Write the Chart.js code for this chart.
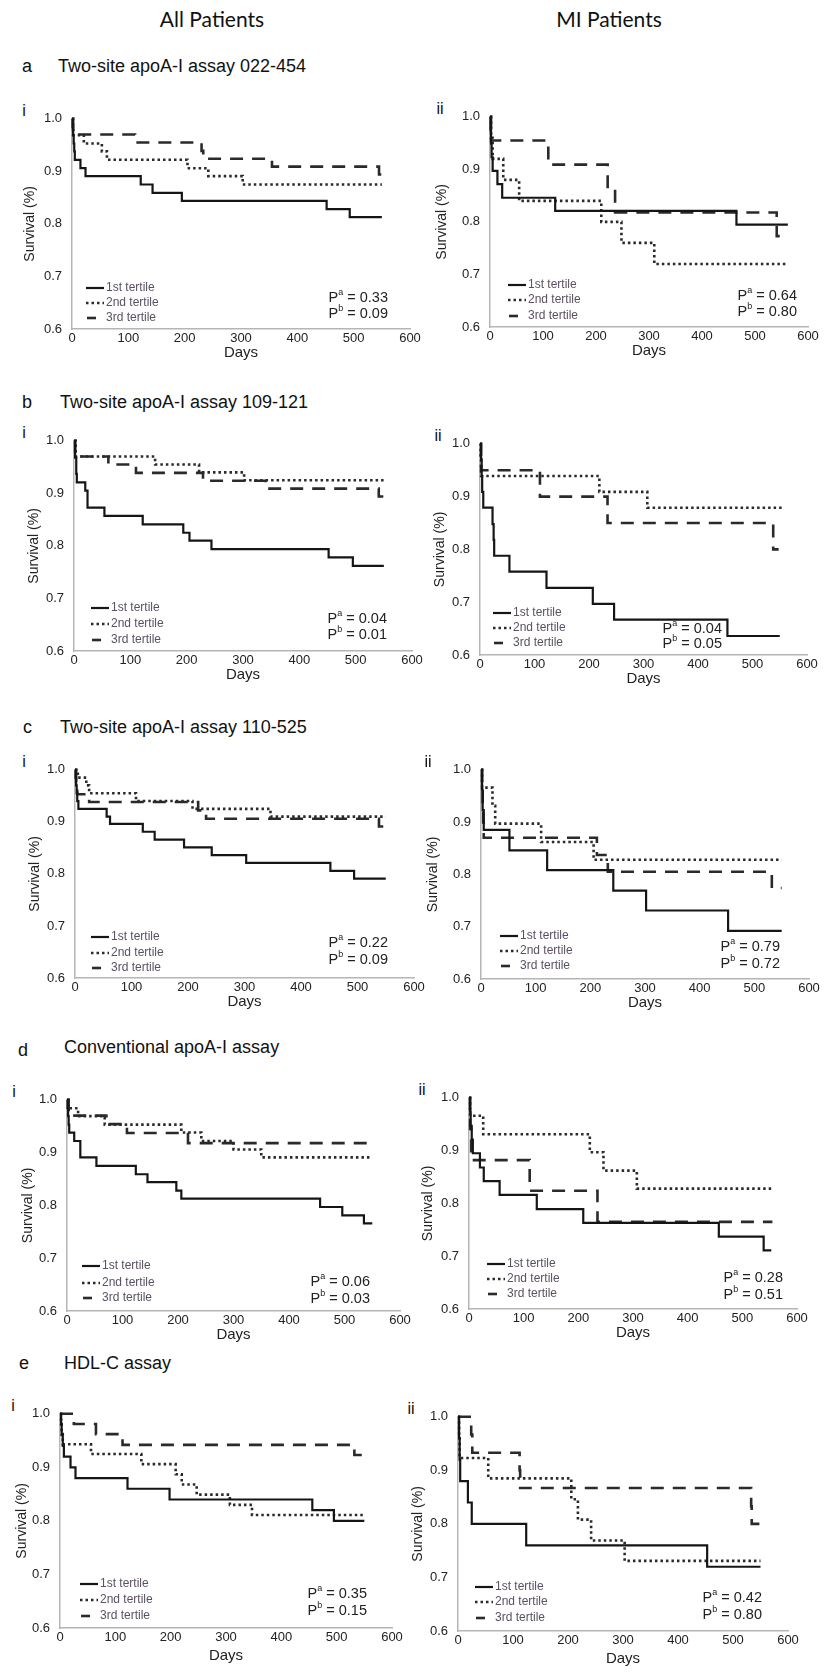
<!DOCTYPE html>
<html>
<head>
<meta charset="utf-8">
<script src="https://cdn.jsdelivr.net/npm/chart.js@4.4.1/dist/chart.umd.min.js"></script>
<style>
  body { margin: 0; background: #fff; }
  #page { position: relative; width: 829px; height: 1675px; overflow: hidden;
          font-family: 'Liberation Sans', Arial, sans-serif; color: #111; }
  .txt { position: absolute; white-space: nowrap; line-height: 1; transform: translateY(-50%); }
  .hdr { font-family: Lato, 'Open Sans', sans-serif; font-size: 21px; transform: translate(-50%, -50%); }
  .ttl { font-size: 18px; }
  .pl { font-size: 16px; transform: translate(-50%, -50%); }
  canvas { position: absolute; }
</style>
</head>
<body>
<div id="page"></div>
<script>
// Kaplan-Meier steps: [day, survival]
var aAll1 = [[0,1],[1,0.984],[2,0.969],[3,0.953],[4,0.938],[5,0.922],[15,0.906],[24,0.891],[122,0.875],[143,0.859],[195,0.844],[452,0.828],[493,0.813],[550,0.813]];
var aAll2 = [[0,1],[2,0.969],[21,0.953],[53,0.938],[62,0.922],[205,0.906],[242,0.891],[303,0.875],[550,0.875]];
var aAll3 = [[0,1],[2,0.970],[112,0.955],[230,0.939],[233,0.924],[355,0.909],[545,0.894],[550,0.894]];
var aMI1 = [[0,1],[1,0.974],[2,0.949],[3,0.923],[5,0.897],[14,0.872],[23,0.846],[123,0.821],[465,0.795],[562,0.795]];
var aMI2 = [[0,1],[2,0.96],[5,0.92],[25,0.88],[55,0.84],[210,0.80],[248,0.76],[310,0.72],[562,0.72]];
var aMI3 = [[0,1],[2,0.955],[110,0.909],[222,0.864],[236,0.818],[541,0.773],[562,0.773]];

var bAll1 = [[0,1],[2,0.968],[4,0.937],[5,0.921],[20,0.905],[24,0.873],[54,0.857],[122,0.841],[194,0.825],[205,0.810],[244,0.794],[452,0.778],[495,0.762],[550,0.762]];
var bAll2 = [[0,1],[3,0.970],[144,0.955],[222,0.940],[302,0.925],[550,0.925]];
var bAll3 = [[0,1],[2,0.970],[61,0.955],[110,0.939],[229,0.924],[340,0.909],[541,0.894],[550,0.894]];
var bMI1 = [[0,1],[2,0.970],[3,0.939],[4,0.909],[6,0.879],[23,0.848],[25,0.818],[26,0.788],[54,0.758],[122,0.727],[207,0.697],[246,0.667],[454,0.636],[550,0.636]];
var bMI2 = [[0,1],[1,0.970],[2,0.939],[219,0.909],[307,0.879],[555,0.879]];
var bMI3 = [[0,1],[2,0.95],[110,0.90],[234,0.85],[538,0.80],[548,0.80]];

var cAll1 = [[0,1],[1,0.985],[2,0.970],[3,0.955],[4,0.940],[6,0.925],[56,0.910],[62,0.896],[120,0.881],[141,0.866],[193,0.851],[242,0.836],[303,0.821],[452,0.806],[494,0.791],[550,0.791]];
var cAll2 = [[0,1],[5,0.985],[20,0.970],[25,0.955],[108,0.940],[208,0.925],[346,0.910],[550,0.910]];
var cAll3 = [[0,1],[2,0.969],[4,0.953],[25,0.938],[218,0.922],[232,0.906],[538,0.891],[550,0.891]];
var cMI1 = [[0,1],[2,0.962],[3,0.923],[5,0.885],[52,0.846],[121,0.808],[242,0.769],[302,0.731],[452,0.692],[550,0.692]];
var cMI2 = [[0,1],[2,0.966],[21,0.931],[26,0.897],[110,0.862],[206,0.828],[550,0.828]];
var cMI3 = [[0,1],[2,0.967],[3,0.933],[4,0.90],[5,0.870],[212,0.837],[232,0.805],[532,0.774],[550,0.774]];

var dAll1 = [[0,1],[1,0.984],[2,0.969],[3,0.953],[4,0.938],[13,0.922],[24,0.891],[53,0.875],[124,0.859],[145,0.844],[197,0.828],[206,0.813],[456,0.797],[496,0.781],[535,0.766],[550,0.766]];
var dAll2 = [[0,1],[3,0.984],[20,0.969],[68,0.953],[206,0.938],[242,0.922],[300,0.906],[350,0.891],[550,0.891]];
var dAll3 = [[0,1],[3,0.970],[71,0.954],[108,0.937],[218,0.918],[550,0.918]];
var dMI1 = [[0,1],[2,0.974],[3,0.947],[5,0.921],[7,0.895],[20,0.868],[27,0.842],[56,0.816],[124,0.789],[209,0.763],[457,0.737],[539,0.711],[553,0.711]];
var dMI2 = [[0,1],[2,0.966],[26,0.931],[221,0.897],[246,0.862],[307,0.828],[555,0.828]];
var dMI3 = [[0,1],[2,0.941],[4,0.882],[111,0.824],[235,0.765],[555,0.765]];

var eAll1 = [[0,1],[2,0.98],[3,0.96],[5,0.94],[7,0.92],[19,0.90],[28,0.88],[122,0.86],[198,0.84],[456,0.82],[495,0.80],[550,0.80]];
var eAll2 = [[0,1],[2,0.981],[3,0.962],[5,0.943],[56,0.925],[147,0.906],[209,0.887],[220,0.868],[247,0.849],[307,0.830],[347,0.811],[550,0.811]];
var eAll3 = [[0,1],[25,0.981],[65,0.962],[113,0.942],[532,0.923],[550,0.923]];
var eMI1 = [[0,1],[2,0.96],[3,0.92],[4,0.88],[18,0.84],[25,0.80],[124,0.76],[453,0.72],[550,0.72]];
var eMI2 = [[0,1],[2,0.962],[3,0.923],[55,0.885],[206,0.846],[218,0.808],[242,0.769],[303,0.731],[550,0.731]];
var eMI3 = [[0,1],[24,0.967],[26,0.933],[112,0.90],[113,0.867],[533,0.833],[534,0.80],[548,0.80]];

var tertiles = ['1st tertile', '2nd tertile', '3rd tertile'];
var pA = ['0.33', '0.64', '0.04', '0.04', '0.22', '0.79', '0.06', '0.28', '0.35', '0.42'];
var pB = ['0.09', '0.80', '0.01', '0.05', '0.09', '0.72', '0.03', '0.51', '0.15', '0.80'];
var dayTicks = [0, 600, 100];        // min, max, step
var survivalTicks = [0.6, 1.0, 0.1]; // min, max, step

var series = [
  [aAll1, aAll2, aAll3], [aMI1, aMI2, aMI3],
  [bAll1, bAll2, bAll3], [bMI1, bMI2, bMI3],
  [cAll1, cAll2, cAll3], [cMI1, cMI2, cMI3],
  [dAll1, dAll2, dAll3], [dMI1, dMI2, dMI3],
  [eAll1, eAll2, eAll3], [eMI1, eMI2, eMI3]
];

// plot boxes on the page (l,t,r,b), y-axis box width, x-axis box height,
// panel tag offset, legend / P offsets
var boxes = [
  {l:72,  t:111,  r:410, b:329,  yw:50, xh:33, tag:'i',  tx:-48, lx:14, rows:[41,26,11], pr:22, pa:31, pb:15},
  {l:490, t:109,  r:808, b:327,  yw:56, xh:33, tag:'ii', tx:-50, lx:18, rows:[42,27,11], pr:11, pa:31, pb:15},
  {l:74,  t:433,  r:412, b:651,  yw:48, xh:33, tag:'i',  tx:-50, lx:17, rows:[43,27,11], pr:25, pa:32, pb:16},
  {l:480, t:436,  r:807, b:655,  yw:48, xh:33, tag:'ii', tx:-42, lx:13, rows:[42,27,12], pr:85, pa:26, pb:11},
  {l:75,  t:762,  r:414, b:978,  yw:48, xh:33, tag:'i',  tx:-51, lx:16, rows:[41,25,10], pr:26, pa:35, pb:18},
  {l:481, t:762,  r:809, b:979,  yw:56, xh:33, tag:'ii', tx:-53, lx:19, rows:[43,28,13], pr:29, pa:32, pb:15},
  {l:67,  t:1092, r:400, b:1311, yw:47, xh:33, tag:'i',  tx:-53, lx:15, rows:[45,28,13], pr:30, pa:29, pb:12},
  {l:469, t:1090, r:797, b:1309, yw:49, xh:33, tag:'ii', tx:-47, lx:18, rows:[45,30,15], pr:14, pa:31, pb:14},
  {l:60,  t:1406, r:392, b:1628, yw:46, xh:37, tag:'i',  tx:-47, lx:20, rows:[44,28,12], pr:25, pa:34, pb:17},
  {l:458, t:1409, r:788, b:1631, yw:48, xh:37, tag:'ii', tx:-47, lx:17, rows:[44,29,13], pr:26, pa:33, pb:16}
];

var headers = [
  {text:'All Patients', x:212, y:18, cls:'hdr'},
  {text:'MI Patients', x:609, y:18, cls:'hdr'},
  {text:'a', x:22, y:66, cls:'ttl'}, {text:'Two-site apoA-I assay 022-454', x:58, y:66, cls:'ttl'},
  {text:'b', x:22, y:402, cls:'ttl'}, {text:'Two-site apoA-I assay 109-121', x:60, y:402, cls:'ttl'},
  {text:'c', x:23, y:727, cls:'ttl'}, {text:'Two-site apoA-I assay 110-525', x:60, y:727, cls:'ttl'},
  {text:'d', x:18, y:1050, cls:'ttl'}, {text:'Conventional apoA-I assay', x:64, y:1047, cls:'ttl'},
  {text:'e', x:19, y:1363, cls:'ttl'}, {text:'HDL-C assay', x:64, y:1363, cls:'ttl'}
];

var FONT = "'Liberation Sans', Arial, sans-serif";
var lineStyles = [
  {borderColor:'#151515', borderWidth:2.2, borderDash:[]},
  {borderColor:'#2a2a2a', borderWidth:2.6, borderDash:[2.5, 3]},
  {borderColor:'#2a2a2a', borderWidth:2.6, borderDash:[13, 9]}
];

var page = document.getElementById('page');
function addText(text, x, y, cls) {
  var d = document.createElement('div');
  d.className = 'txt ' + cls;
  d.style.left = x + 'px';
  d.style.top = y + 'px';
  d.textContent = text;
  page.appendChild(d);
}
headers.forEach(function(h){ addText(h.text, h.x, h.y, h.cls); });

function drawP(ctx, sup, val, right, y) {
  var big = '14.5px ' + FONT, small = '9px ' + FONT, rest = ' = ' + val;
  ctx.font = big;
  var wP = ctx.measureText('P').width, wR = ctx.measureText(rest).width;
  ctx.font = small;
  var wS = ctx.measureText(sup).width;
  var x = right - wR - wS - wP;
  ctx.font = big;  ctx.fillText('P', x, y);
  ctx.font = small; ctx.fillText(sup, x + wP, y - 5);
  ctx.font = big;  ctx.fillText(rest, x + wP + wS, y);
}

var kmLegend = {
  id: 'kmLegend',
  afterDraw: function(chart, args, o) {
    var ctx = chart.ctx, a = chart.chartArea;
    ctx.save();
    ctx.textBaseline = 'middle';
    ctx.textAlign = 'left';
    chart.data.datasets.forEach(function(ds, i){
      var x = a.left + o.lx, y = a.bottom - o.rows[i];
      ctx.strokeStyle = ds.borderColor;
      ctx.lineWidth = ds.borderWidth;
      ctx.setLineDash(i == 2 ? [] : ds.borderDash);
      ctx.beginPath();
      if (i == 2) { ctx.moveTo(x + 1, y); ctx.lineTo(x + 10, y); }
      else { ctx.moveTo(x, y); ctx.lineTo(x + 18, y); }
      ctx.stroke();
      ctx.setLineDash([]);
      ctx.font = '12px ' + FONT;
      ctx.fillStyle = '#5a5062';
      ctx.fillText(ds.label, x + 20, y);
    });
    ctx.fillStyle = '#222';
    drawP(ctx, 'a', o.pa, a.right - o.pr, a.bottom - o.pyA);
    drawP(ctx, 'b', o.pb, a.right - o.pr, a.bottom - o.pyB);
    ctx.restore();
  }
};

var PT = 10, PR = 15;
boxes.forEach(function(bx, k){
  addText(bx.tag, bx.l + bx.tx, bx.t, 'pl');

  var w = (bx.r - bx.l) + bx.yw + PR, h = (bx.b - bx.t) + PT + bx.xh;
  var cv = document.createElement('canvas');
  cv.width = w; cv.height = h;
  cv.style.width = w + 'px'; cv.style.height = h + 'px';
  cv.style.left = (bx.l - bx.yw) + 'px';
  cv.style.top = (bx.t - PT) + 'px';
  page.appendChild(cv);

  var datasets = series[k].map(function(s, i){
    return Object.assign({
      label: tertiles[i],
      data: s.map(function(p){ return {x: p[0], y: p[1]}; }),
      stepped: 'before',
      pointRadius: 0,
      fill: false,
      clip: 5
    }, lineStyles[i]);
  });

  new Chart(cv, {
    type: 'line',
    data: { datasets: datasets },
    plugins: [kmLegend],
    options: {
      responsive: false,
      animation: false,
      devicePixelRatio: 1,
      layout: { padding: { top: PT, right: PR, left: 0, bottom: 0 } },
      plugins: {
        legend: { display: false },
        tooltip: { enabled: false },
        kmLegend: { lx: bx.lx, rows: bx.rows, pr: bx.pr, pyA: bx.pa, pyB: bx.pb, pa: pA[k], pb: pB[k] }
      },
      scales: {
        x: {
          type: 'linear', min: dayTicks[0], max: dayTicks[1],
          ticks: { stepSize: dayTicks[2], autoSkip: false, maxRotation: 0, padding: 2,
                   color: '#222', font: { size: 13, family: FONT } },
          grid: { color: 'rgba(0,0,0,0)', drawTicks: false },
          border: { color: '#b5b5b5', width: 1.5 },
          title: { display: true, text: 'Days', color: '#222', padding: 0,
                   font: { size: 15, family: FONT } },
          afterFit: function(s){ s.height = bx.xh; }
        },
        y: {
          type: 'linear', min: survivalTicks[0], max: survivalTicks[1],
          ticks: { stepSize: survivalTicks[2], padding: 10, color: '#222',
                   font: { size: 13, family: FONT },
                   callback: function(v){ return v.toFixed(1); } },
          grid: { color: 'rgba(0,0,0,0)', drawTicks: false },
          border: { color: '#b5b5b5', width: 1.5 },
          title: { display: true, text: 'Survival (%)', color: '#222', padding: 0,
                   font: { size: 14, family: FONT } },
          afterFit: function(s){ s.width = bx.yw; }
        }
      }
    }
  });
});
</script>
</body>
</html>
